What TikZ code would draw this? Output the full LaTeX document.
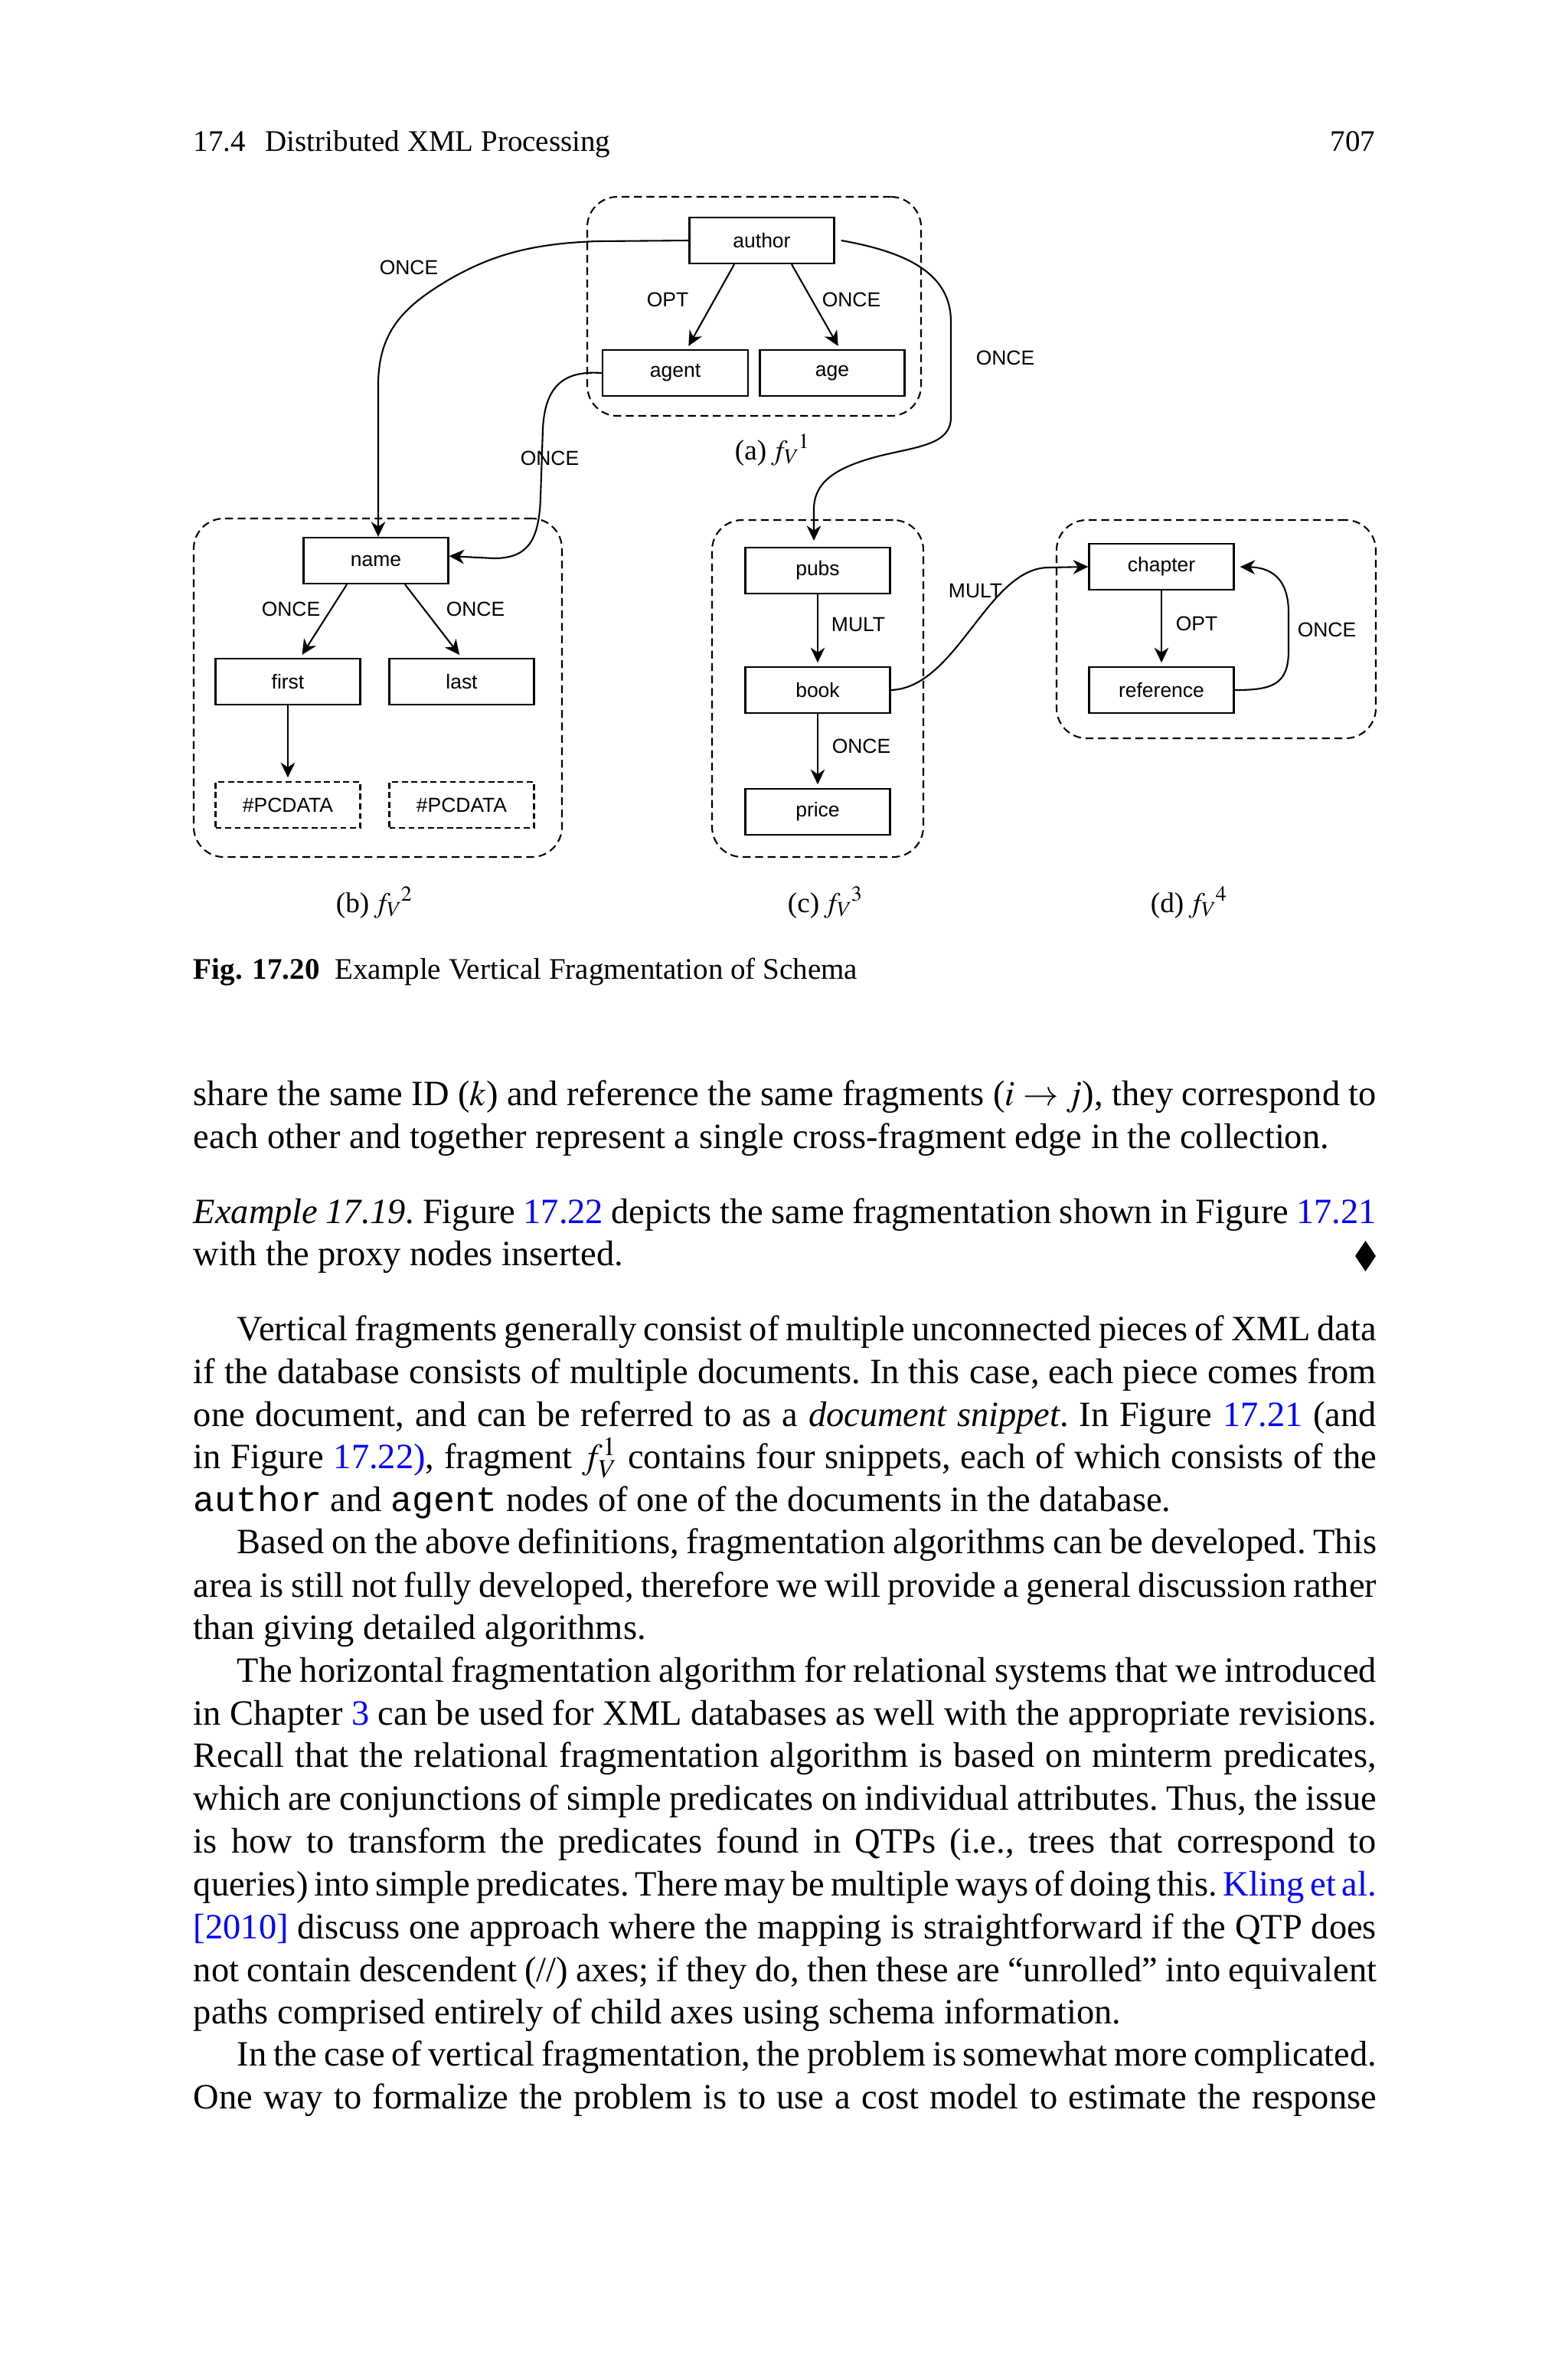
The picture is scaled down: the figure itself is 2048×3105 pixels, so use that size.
\documentclass[tikz,border=0pt]{standalone}
\usepackage{mathptmx}
\usepackage{fontspec}
\setmainfont{Liberation Serif}
\setsansfont{Liberation Sans}
\setmonofont{Liberation Mono}
\usetikzlibrary{arrows.meta,calc}
\newlength\upx
\setlength\upx{0.075684mm}
\definecolor{linkblue}{RGB}{0,0,255}
\newcommand\lnk[1]{\textcolor{linkblue}{#1}}
\newcommand\diagfont{\fontsize{5.7}{6.5}\selectfont\sffamily}
\newcommand\bodyfont{\fontsize{10}{12}\selectfont\frenchspacing}
\newcommand\capfont{\fontsize{8.4}{10}\selectfont}
\newcommand\subcapfont{\fontsize{8}{9.5}\selectfont}
\newcommand\fullline[1]{\makebox[1545\upx][s]{#1}}
\newcommand\indline[1]{\makebox[1488\upx][s]{#1}}
\newcommand\fvsup[1]{${f_V}^{\kern-0.6pt #1}$}
\begin{document}
\begin{tikzpicture}[x=\upx, y=-\upx,
  box/.style={draw, line width=0.5pt, minimum width=189\upx, minimum height=60\upx, inner sep=0pt, font=\diagfont},
  pcbox/.style={box, dash pattern=on 1.7pt off 1pt},
  frame/.style={draw, line width=0.45pt, dash pattern=on 2.2pt off 1.3pt, rounded corners=8.5pt, inner sep=0pt},
  lbl/.style={inner sep=0pt, font=\diagfont},
  arr/.style={line width=0.45pt, -{Stealth[length=4.2pt,width=4pt,inset=1.3pt]}},
  txt/.style={anchor=base west, inner sep=0pt, font=\bodyfont},
  subcap/.style={anchor=base west, inner sep=0pt, font=\subcapfont}]
\useasboundingbox (0,0) rectangle (2048,3105);
\fill[white] (0,0) rectangle (2048,3105);

% running head
\node[txt, font=\capfont] (hdr) at (252,197) {17.4\hspace{5.5pt}Distributed XML Processing};
\node[txt, font=\capfont, anchor=base east] (pg) at (1797,197) {707};

% fragment frames
\node[frame, minimum width=436\upx, minimum height=286\upx] (fa) at (985,400) {};
\node[frame, minimum width=481\upx, minimum height=442\upx] (fb) at (493.5,898) {};
\node[frame, minimum width=276\upx, minimum height=440\upx] (fc) at (1068,899) {};
\node[frame, minimum width=417\upx, minimum height=285\upx] (fd) at (1588.5,821.5) {};

% nodes
\node[box] (author) at (995,314) {author};
\node[box, minimum width=190\upx] (agent) at (882,487) {agent};
\node[box] (age) at (1087,487) {age};
\node[box] (name) at (491,732) {name};
\node[box] (first) at (376,890) {first};
\node[box] (last) at (603,890) {last};
\node[pcbox] (pc1) at (376,1051) {\#PCDATA};
\node[pcbox] (pc2) at (603,1051) {\#PCDATA};
\node[box] (pubs) at (1068,745) {pubs};
\node[box] (book) at (1068,901) {book};
\node[box] (price) at (1068,1060) {price};
\node[box] (chapter) at (1517,740) {chapter};
\node[box] (reference) at (1517,901) {reference};

% edge labels
\node[lbl] (l1) at (872,391) {OPT};
\node[lbl] (l2) at (1112,391) {ONCE};
\node[lbl] (l3) at (534,349) {ONCE};
\node[lbl] (l4) at (718,598) {ONCE};
\node[lbl] (l5) at (1313,467) {ONCE};
\node[lbl] (l6) at (380,795) {ONCE};
\node[lbl] (l7) at (621,795) {ONCE};
\node[lbl] (l8) at (1121,816) {MULT};
\node[lbl] (l9) at (1125,974) {ONCE};
\node[lbl] (l10) at (1274,772) {MULT};
\node[lbl] (l11) at (1563,814) {OPT};
\node[lbl] (l12) at (1733,822) {ONCE};

% tree edges
\draw[arr, shorten >=1pt] ([xshift=-36\upx]author.south) -- ([xshift=15\upx]agent.north);
\draw[arr, shorten >=1pt] ([xshift=39\upx]author.south) -- ([xshift=10\upx]age.north);
\draw[arr, shorten >=1pt] ([xshift=-38\upx]name.south) -- ([xshift=16\upx]first.north);
\draw[arr, shorten >=1pt] ([xshift=38\upx]name.south) -- (last.north);
\draw[arr, shorten >=1pt] (first.south) -- (pc1.north);
\draw[arr, shorten >=1pt] (pubs.south) -- (book.north);
\draw[arr, shorten >=1pt] (book.south) -- (price.north);
\draw[arr, shorten >=1pt] (chapter.south) -- (reference.north);

% cross-fragment edges
\draw[arr] (author.west) -- (780,315) .. controls (690,318) and (640,335) .. (590,363)
  .. controls (530,398) and (495,430) .. (494,500) -- (name.north -| 494,0);
\draw[arr] (agent.west) .. controls (740,484) and (712,500) .. (709,560) -- (706,650)
  .. controls (704,705) and (690,729) .. (645,729) -- ([yshift=6\upx]name.east);
\draw[arr, shorten >=1.7pt] ([xshift=8\upx]author.east) .. controls (1190,330) and (1242,360) .. (1242,420)
  -- (1242,545) .. controls (1242,580) and (1200,583) .. (1150,595)
  .. controls (1100,608) and (1063,625) .. (1063,665) -- (pubs.north -| 1063,0);
\draw[arr] (book.east) .. controls (1250,898) and (1290,741) .. (1370,741) -- (chapter.west);
\draw[arr, shorten >=1.5pt] (reference.east) .. controls (1660,901) and (1683,895) .. (1683,850)
  -- (1683,800) .. controls (1683,755) and (1660,741) .. (chapter.east);

% subcaptions
\node[subcap] (sa) at (959,600) {(a)\,\fvsup{1}};
\node[subcap] (sb) at (438,1191) {(b)\,\fvsup{2}};
\node[subcap] (sc) at (1028,1191) {(c)\,\fvsup{3}};
\node[subcap] (sd) at (1502,1191) {(d)\,\fvsup{4}};

% caption
\node[txt, font=\capfont] (cap) at (252,1278) {\textbf{Fig. 17.20}\hspace{4.3pt}Example Vertical Fragmentation of Schema};

% body text
\node[txt] (t1) at (252,1443) {\fullline{share the same ID ($k$) and reference the same fragments ($i\rightarrow j$), they correspond to}};
\node[txt] (t2) at (252,1499) {each other and together represent a single cross-fragment edge in the collection.};
\node[txt] (t3) at (252,1597) {\fullline{\textit{Example 17.19.} Figure \lnk{17.22} depicts the same fragmentation shown in Figure \lnk{17.21}}};
\node[txt] (t4) at (252,1652) {with the proxy nodes inserted.};
\fill (1770,1640) -- (1783.5,1620) -- (1797,1640) -- (1783.5,1660) -- cycle;
\node[txt] (t5) at (309,1750) {\indline{Vertical fragments generally consist of multiple unconnected pieces of XML data}};
\node[txt] (t6) at (252,1806) {\fullline{if the database consists of multiple documents. In this case, each piece comes from}};
\node[txt] (t7) at (252,1862) {\fullline{one document, and can be referred to as a \textit{document snippet}. In Figure \lnk{17.21} (and}};
\node[txt] (t8) at (252,1917) {\fullline{in Figure \lnk{17.22)}, fragment $f_V^1$ contains four snippets, each of which consists of the}};
\node[txt] (t9) at (252,1973) {\texttt{author} and \texttt{agent} nodes of one of the documents in the database.};
\node[txt] (t10) at (309,2028) {\indline{Based on the above definitions, fragmentation algorithms can be developed. This}};
\node[txt] (t11) at (252,2085) {\fullline{area is still not fully developed, therefore we will provide a general discussion rather}};
\node[txt] (t12) at (252,2140) {than giving detailed algorithms.};
\node[txt] (t13) at (309,2196) {\indline{The horizontal fragmentation algorithm for relational systems that we introduced}};
\node[txt] (t14) at (252,2252) {\fullline{in Chapter \lnk{3} can be used for XML databases as well with the appropriate revisions.}};
\node[txt] (t15) at (252,2307) {\fullline{Recall that the relational fragmentation algorithm is based on minterm predicates,}};
\node[txt] (t16) at (252,2363) {\fullline{which are conjunctions of simple predicates on individual attributes. Thus, the issue}};
\node[txt] (t17) at (252,2419) {\fullline{is how to transform the predicates found in QTPs (i.e., trees that correspond to}};
\node[txt] (t18) at (252,2475) {\fullline{queries) into simple predicates. There may be multiple ways of doing this. \lnk{Kling et al.}}};
\node[txt] (t19) at (252,2531) {\fullline{\lnk{[2010]} discuss one approach where the mapping is straightforward if the QTP does}};
\node[txt] (t20) at (252,2587) {\fullline{not contain descendent (//) axes; if they do, then these are “unrolled” into equivalent}};
\node[txt] (t21) at (252,2642) {paths comprised entirely of child axes using schema information.};
\node[txt] (t22) at (309,2697) {\indline{In the case of vertical fragmentation, the problem is somewhat more complicated.}};
\node[txt] (t23) at (252,2753) {\fullline{One way to formalize the problem is to use a cost model to estimate the response}};
\end{tikzpicture}
\end{document}
